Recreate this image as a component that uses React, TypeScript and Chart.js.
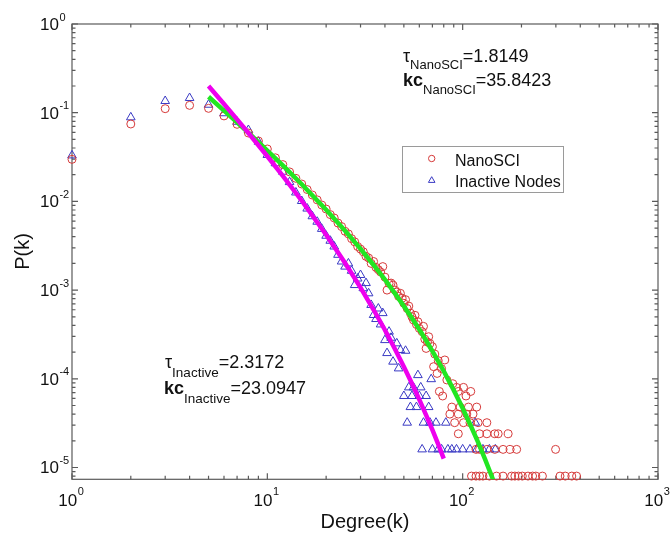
import React, { useEffect, useRef } from 'react';
import { Chart, registerables } from 'chart.js';
Chart.register(...registerables);

// ---- data ----
const nanoK = [
  1, 2, 3, 4, 5, 6, 7, 8, 9, 10, 11, 12, 13, 14, 15, 16, 17, 18, 19, 20,
  21, 22, 23, 24, 25, 26, 27, 28, 29, 30, 31, 32, 33, 34, 35, 36, 37, 38, 39, 40,
  41, 42, 43, 44, 45, 46, 47, 48, 49, 50, 51, 52, 53, 54, 55, 56, 57, 58, 59, 60,
  62, 63, 64, 65, 66, 67, 68, 70, 71, 72, 74, 75, 76, 78, 79, 81, 83,
  86, 88, 89, 91, 93, 95, 95, 95, 97, 101, 101, 104, 105, 107, 109, 110, 111, 113,
  117, 117, 118, 120, 122, 122, 122, 127, 133, 133, 133, 137, 146, 146, 149, 152,
  161, 161, 171, 175, 178, 185, 189, 193, 202, 216, 228, 237, 256, 299, 315, 335, 362, 383,
];
const nanoP = [
  0.0298, 0.0746, 0.111, 0.121, 0.112, 0.092, 0.074, 0.059, 0.048, 0.039, 0.031, 0.026, 0.0215, 0.0182, 0.0157, 0.0136, 0.0118, 0.0104, 0.0091, 0.0082,
  0.0071, 0.0065, 0.0057, 0.0052, 0.0046, 0.0043, 0.0038, 0.0035, 0.0031, 0.0029, 0.0027, 0.0024, 0.0023, 0.002, 0.0021, 0.0018, 0.0017, 0.0016, 0.00184, 0.0014,
  0.001, 0.00119, 0.0012, 0.00114, 0.001, 0.00095, 0.00085, 0.00092, 0.00081, 0.00071, 0.00078, 0.00062, 0.00066, 0.00055, 0.0005, 0.00046, 0.00052, 0.00041, 0.00044, 0.00037,
  0.00034, 0.00039, 0.00028, 0.00022, 0.00026, 0.000298, 0.00025, 0.00023, 0.000137, 0.00019, 0.000115, 0.00016, 0.000072, 0.00013, 0.000064, 0.000163, 0.000097,
  0.00004, 0.000048, 0.000088, 0.000032, 0.00008, 0.000072, 0.000024, 0.00004, 0.000048, 0.000032, 0.00008, 0.000064, 0.00004, 0.000048, 0.000032, 0.000072, 0.000008, 0.00004,
  0.000016, 0.000008, 0.000048, 0.000032, 0.000024, 0.000016, 0.000008, 0.000008, 0.000032, 0.000024, 0.000016, 0.000008, 0.000024, 0.000016, 0.000008, 0.000024,
  0.000016, 0.000008, 0.000024, 0.000016, 0.000008, 0.000008, 0.000016, 0.000008, 0.000008, 0.000008, 0.000008, 0.000008, 0.000008, 0.000016, 0.000008, 0.000008, 0.000008, 0.000008,
];

const inactK = [
  1, 2, 3, 4, 5, 6, 7, 8, 9, 10, 11, 12, 13, 14, 15, 16, 17, 18, 19, 20,
  21, 22, 23, 24, 25, 26, 27, 28, 29, 30, 31, 32, 33, 34, 35, 36, 37, 38, 39, 40,
  41, 42, 43, 44, 46, 47, 48, 50, 51, 52, 53, 54, 55, 56, 58, 59, 60, 61, 63, 65,
  67, 68, 69, 73, 82, 116,
  62, 70, 75, 78, 84, 88, 93, 100, 109, 118, 127, 137, 147,
];
const inactP = [
  0.033, 0.0887, 0.1355, 0.1465, 0.123, 0.0986, 0.079, 0.0638, 0.0471, 0.0334, 0.0269, 0.0216, 0.0165, 0.0126, 0.0101, 0.0083, 0.0068, 0.0059, 0.0049, 0.0041,
  0.0036, 0.0031, 0.0025, 0.0021, 0.00184, 0.002, 0.00165, 0.00114, 0.00135, 0.00148, 0.00105, 0.0012, 0.00092, 0.00068, 0.000524, 0.000472, 0.00062, 0.00041, 0.00055, 0.000273,
  0.000195, 0.00034, 0.00029, 0.000156, 0.000251, 0.000131, 0.000211, 0.000064, 0.000207, 0.000032, 0.00008, 0.000048, 0.000064, 0.00008, 0.000048, 0.00011, 0.000064, 0.00008, 0.000032, 0.000064,
  0.000048, 0.000032, 0.000099, 0.000032, 0.000032, 0.000032,
  0.000016, 0.000016, 0.000016, 0.000016, 0.000016, 0.000016, 0.000016, 0.000016, 0.000016, 0.000016, 0.000016, 0.000016, 0.000016,
];

// fitted curves (read along the drawn magenta / green lines)
const fitInactK = [5, 6, 7, 8, 10, 12, 15, 20, 25, 30, 35, 40, 45, 50, 55, 60, 65, 70, 75, 80];
const fitInactP = [0.2, 0.1255, 0.0841, 0.0591, 0.0323, 0.01942, 0.01017, 0.0042, 0.00202, 0.001065, 0.0006, 0.000355, 0.000217, 0.000137, 0.0000886, 0.0000583, 0.000039, 0.0000265, 0.0000182, 0.0000126];
const fitNanoK = [5, 6, 7, 8, 10, 12, 15, 20, 25, 30, 35, 40, 45, 50, 55, 60, 65, 70, 75, 80, 90, 100, 110, 120, 130, 143];
const fitNanoP = [0.1514, 0.1057, 0.0777, 0.0594, 0.0374, 0.0254, 0.0156, 0.00805, 0.00467, 0.002917, 0.00192, 0.001309, 0.000919, 0.00066, 0.000483, 0.000359, 0.00027, 0.000205, 0.0001575, 0.0001219, 0.0000745, 0.0000465, 0.0000296, 0.00001915, 0.00001253, 0.00000733];

const xTickValues = [1, 10, 100, 1000];
const xTickExps = ['0', '1', '2', '3'];
const yTickValues = [1, 0.1, 0.01, 0.001, 0.0001, 0.00001];
const yTickExps = ['0', '-1', '-2', '-3', '-4', '-5'];

const X_MIN = 1;
const X_MAX = 1000;
const Y_MIN = 7.36e-6;
const Y_MAX = 1;

const FONT = '"Liberation Sans", Arial, Helvetica, sans-serif';
const RED = 'rgb(214,58,58)';
const BLUE = 'rgb(58,58,196)';

function f(size: number, bold = false) {
  return `${bold ? 'bold ' : ''}${size}px ${FONT}`;
}

type Part = { t: string; size: number; dy: number; bold?: boolean };
function drawRich(ctx: CanvasRenderingContext2D, x: number, y: number, parts: Part[]) {
  let cx = x;
  for (const p of parts) {
    ctx.font = f(p.size, p.bold);
    ctx.fillText(p.t, cx, y + p.dy);
    cx += ctx.measureText(p.t).width;
  }
}

const framePlugin = {
  id: 'framePlugin',
  beforeDatasetsDraw(chart: any) {
    const { ctx, chartArea: a, scales } = chart;
    const xs = scales.x;
    const ys = scales.y;
    ctx.save();
    ctx.strokeStyle = '#5a5a5a';
    ctx.lineWidth = 1.2;
    ctx.beginPath();
    // x ticks (bottom & top, inward)
    for (let d = 0; d <= 3; d++) {
      for (let m = 1; m <= 9; m++) {
        const v = m * Math.pow(10, d);
        if (v < X_MIN || v > X_MAX) continue;
        const px = xs.getPixelForValue(v);
        const len = m === 1 ? 6 : 3.5;
        ctx.moveTo(px, a.bottom);
        ctx.lineTo(px, a.bottom - len);
        ctx.moveTo(px, a.top);
        ctx.lineTo(px, a.top + len);
      }
    }
    // y ticks (left & right, inward)
    for (let d = -6; d <= 0; d++) {
      for (let m = 1; m <= 9; m++) {
        const v = m * Math.pow(10, d);
        if (v < Y_MIN || v > Y_MAX * 1.0001) continue;
        const py = ys.getPixelForValue(v);
        const len = m === 1 ? 6 : 3.5;
        ctx.moveTo(a.left, py);
        ctx.lineTo(a.left + len, py);
        ctx.moveTo(a.right, py);
        ctx.lineTo(a.right - len, py);
      }
    }
    ctx.stroke();
    ctx.strokeRect(a.left, a.top, a.right - a.left, a.bottom - a.top);
    ctx.restore();
  },
  afterDraw(chart: any) {
    const { ctx, chartArea: a, scales } = chart;
    const xs = scales.x;
    const ys = scales.y;
    ctx.save();
    ctx.fillStyle = '#111';
    ctx.textBaseline = 'alphabetic';
    ctx.textAlign = 'left';

    // y tick labels
    yTickValues.forEach((v, i) => {
      const py = ys.getPixelForValue(v);
      ctx.font = f(17);
      const w = ctx.measureText('10').width;
      ctx.fillText('10', 40, py + 6);
      ctx.font = f(11);
      ctx.fillText(yTickExps[i], 40 + w + 0.5, py - 3.5);
    });
    // x tick labels
    xTickValues.forEach((v, i) => {
      const px = xs.getPixelForValue(v);
      ctx.font = f(17);
      const w = ctx.measureText('10').width;
      ctx.font = f(11);
      const we = ctx.measureText(xTickExps[i]).width;
      const start = px - (w + we + 0.5) / 2 - 1;
      ctx.font = f(17);
      ctx.fillText('10', start, 506);
      ctx.font = f(11);
      ctx.fillText(xTickExps[i], start + w + 0.5, 495);
    });

    // axis titles
    ctx.font = f(20);
    ctx.textAlign = 'center';
    ctx.fillText('Degree(k)', (a.left + a.right) / 2 + 0, 528);
    ctx.save();
    ctx.translate(23, 251.5);
    ctx.rotate(-Math.PI / 2);
    ctx.textBaseline = 'middle';
    ctx.fillText('P(k)', 0, 0);
    ctx.restore();

    // annotations
    ctx.textAlign = 'left';
    ctx.textBaseline = 'alphabetic';
    drawRich(ctx, 403, 61.5, [
      { t: 'τ', size: 18, dy: 0 },
      { t: 'NanoSCI', size: 13, dy: 7.5 },
      { t: '=1.8149', size: 18, dy: 0 },
    ]);
    drawRich(ctx, 403, 85.5, [
      { t: 'kc', size: 18, dy: 0, bold: true },
      { t: 'NanoSCI', size: 13, dy: 8.5 },
      { t: '=35.8423', size: 18, dy: 0 },
    ]);
    drawRich(ctx, 165, 368, [
      { t: 'τ', size: 18, dy: 0 },
      { t: 'Inactive', size: 13.5, dy: 8.5 },
      { t: '=2.3172', size: 18, dy: 0 },
    ]);
    drawRich(ctx, 164, 393.5, [
      { t: 'kc', size: 18, dy: 0, bold: true },
      { t: 'Inactive', size: 13.5, dy: 9 },
      { t: '=23.0947', size: 18, dy: 0 },
    ]);

    // legend
    ctx.fillStyle = '#fff';
    ctx.fillRect(403, 147, 160, 45);
    ctx.strokeStyle = '#9a9a9a';
    ctx.lineWidth = 1;
    ctx.strokeRect(402.5, 146.5, 161, 46);
    ctx.lineWidth = 1;
    ctx.strokeStyle = RED;
    ctx.beginPath();
    ctx.arc(431.7, 158.5, 3.2, 0, Math.PI * 2);
    ctx.stroke();
    ctx.strokeStyle = BLUE;
    ctx.beginPath();
    const r = 3.8;
    const tx = 431.7;
    const ty = 180.5;
    ctx.moveTo(tx, ty - r);
    ctx.lineTo(tx + r * 0.866, ty + r * 0.5);
    ctx.lineTo(tx - r * 0.866, ty + r * 0.5);
    ctx.closePath();
    ctx.stroke();
    ctx.fillStyle = '#111';
    ctx.font = f(16);
    ctx.fillText('NanoSCI', 455, 166);
    ctx.fillText('Inactive Nodes', 455, 187);
    ctx.restore();
  },
};

export default function App() {
  const ref = useRef<HTMLCanvasElement | null>(null);
  useEffect(() => {
    if (!ref.current) return;
    const chart = new Chart(ref.current, {
      type: 'scatter',
      data: {
        datasets: [
          {
            label: 'Inactive fit',
            data: fitInactK.map((k, i) => ({ x: k, y: fitInactP[i] })),
            showLine: true,
            borderColor: '#ee00ee',
            backgroundColor: '#ee00ee',
            borderWidth: 4.5,
            pointRadius: 0,
            order: 0,
          },
          {
            label: 'NanoSCI fit',
            data: fitNanoK.map((k, i) => ({ x: k, y: fitNanoP[i] })),
            showLine: true,
            borderColor: '#22e622',
            backgroundColor: '#22e622',
            borderWidth: 4.5,
            pointRadius: 0,
            order: 1,
          },
          {
            label: 'NanoSCI',
            data: nanoK.map((k, i) => ({ x: k, y: nanoP[i] })),
            pointStyle: 'circle',
            pointRadius: 4,
            pointBorderWidth: 1,
            borderColor: RED,
            backgroundColor: 'rgba(0,0,0,0)',
            clip: false,
            order: 2,
          },
          {
            label: 'Inactive Nodes',
            data: inactK.map((k, i) => ({ x: k, y: inactP[i] })),
            pointStyle: 'triangle',
            pointRadius: 5,
            pointBorderWidth: 1,
            borderColor: BLUE,
            backgroundColor: 'rgba(0,0,0,0)',
            clip: false,
            order: 3,
          },
        ] as any,
      },
      options: {
        animation: false,
        responsive: false,
        devicePixelRatio: 1,
        events: [],
        layout: { padding: { left: 72, right: 13, top: 24, bottom: 55.7 } },
        scales: {
          x: { type: 'logarithmic', min: X_MIN, max: X_MAX, display: false },
          y: { type: 'logarithmic', min: Y_MIN, max: Y_MAX, display: false },
        },
        plugins: { legend: { display: false }, tooltip: { enabled: false } },
      } as any,
      plugins: [framePlugin],
    });
    return () => chart.destroy();
  }, []);
  return (
    <div style={{ position: 'fixed', left: 0, top: 0, width: 671, height: 535, background: '#fff' }}>
      <canvas ref={ref} width={671} height={535} style={{ display: 'block' }} />
    </div>
  );
}
